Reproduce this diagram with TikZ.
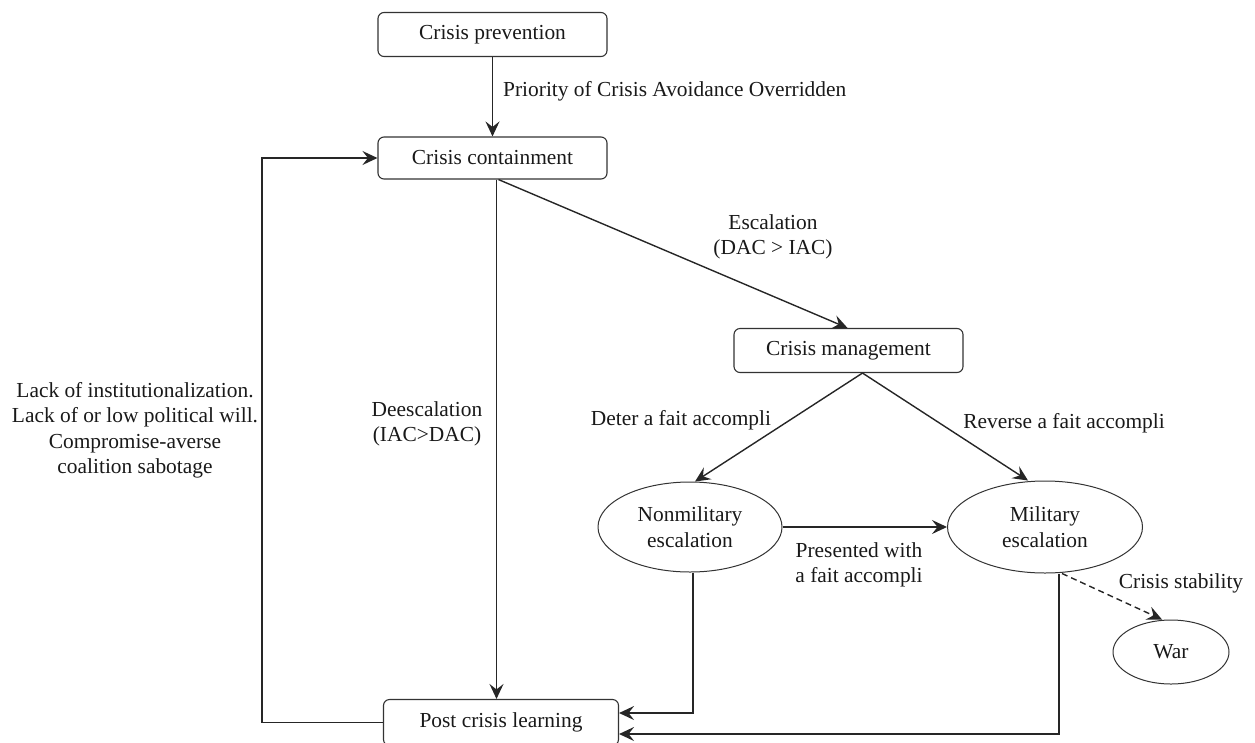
\documentclass[tikz,border=0pt]{standalone}
\usepackage{fontspec}
\setmainfont{Liberation Serif}
\usetikzlibrary{arrows.meta,shapes.geometric,calc}
\begin{document}
\begin{tikzpicture}[x=1pt,y=-1pt,
  every node/.style={font=\fontsize{21.4}{25.5}\selectfont, text=black!90},
  box/.style={draw=black!80, line width=1.1pt, rounded corners=6pt, minimum width=229pt, minimum height=44pt, inner sep=0pt},
  oval/.style={draw=black!80, line width=1pt, ellipse, inner sep=0pt, align=center},
  lbl/.style={align=center, inner sep=0pt},
  arr/.style={draw=black!85, line width=1.4pt, -{Stealth[length=15pt,width=14pt,inset=5.5pt]}},
]
\useasboundingbox (0,0) rectangle (1255,742);
\clip (0,0) rectangle (1255,742);

\node[box] (prev) at (492.5,34.5) {Crisis prevention};
\node[box, minimum height=42pt] (cont) at (492.5,158) {Crisis containment};
\node[box] (mgmt) at (848.5,350.5) {Crisis management};
\node[box, minimum width=235pt, minimum height=46pt] (post) at (501,722.5) {Post crisis learning};
\node[oval, minimum width=184pt, minimum height=90pt] (nonmil) at (690,527) {Nonmilitary\\escalation};
\node[oval, minimum width=195pt, minimum height=92pt] (mil) at (1045,527) {Military\\escalation};
\node[oval, minimum width=116pt, minimum height=64pt] (war) at (1171,652) {War};

\draw[arr] (prev) -- (cont);
\draw[arr] (post.west) -- ++(-121,0) |- (cont.west);
\draw[arr] ([xshift=4pt]cont.south) -- ([xshift=-4.5pt]post.north);
\draw[arr] ([xshift=6pt]cont.south) -- ([xshift=-1pt]mgmt.north);
\draw[arr] ([xshift=14pt]mgmt.south) -- ([xshift=5pt]nonmil.north);
\draw[arr] ([xshift=14pt]mgmt.south) -- ([xshift=-17pt]mil.north);
\draw[arr] (nonmil.east) -- (mil.west);
\draw[arr] ([xshift=3pt]nonmil.south) |- ([yshift=9.5pt]post.east);
\draw[arr] ([xshift=14pt]mil.south) |- ([yshift=-11.5pt]post.east);
\draw[arr, dash pattern=on 6pt off 4pt] ([xshift=17pt]mil.south) -- ([xshift=-9pt]war.north);

\node[lbl, anchor=west] (lprio) at (503,91) {Priority of Crisis Avoidance Overridden};
\node[lbl] (lesc) at (773,237) {Escalation\\(DAC > IAC)};
\node[lbl] (ldees) at (427,424) {Deescalation\\(IAC>DAC)};
\node[lbl] (ldeter) at (681,420) {Deter a fait accompli};
\node[lbl] (lrev) at (1064,423) {Reverse a fait accompli};
\node[lbl] (lpres) at (859,565) {Presented with\\a fait accompli};
\node[lbl] (lstab) at (1181,583) {Crisis stability};
\node[lbl] (llack) at (135,430.5) {Lack of institutionalization.\\Lack of or low political will.\\Compromise-averse\\coalition sabotage};
\end{tikzpicture}
\end{document}
